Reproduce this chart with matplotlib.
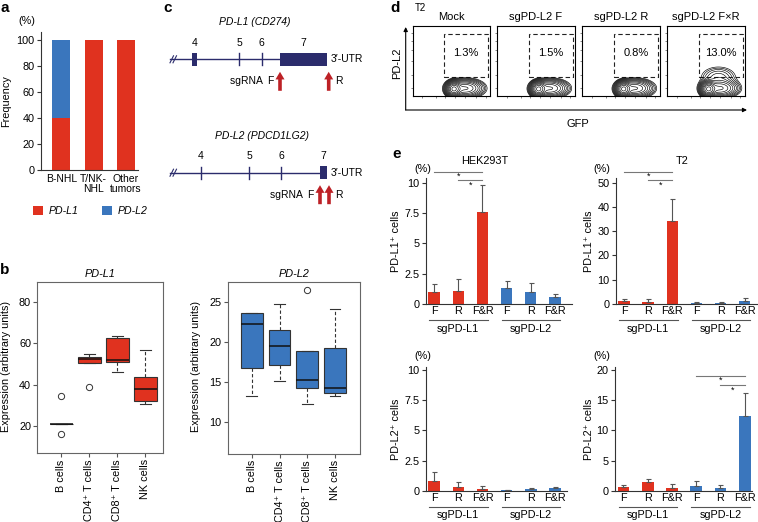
import numpy as np
import matplotlib
matplotlib.use('Agg')
import matplotlib.pyplot as plt
from matplotlib.patches import Rectangle, FancyArrowPatch

plt.rcParams['font.family'] = ['Liberation Sans', 'DejaVu Sans']
plt.rcParams['font.size'] = 7.8

W, H = 758, 522
RED = '#E0321F'
BLUE = '#3A76BD'
NAVY = '#2B2C6C'
ARROW_RED = '#BD2126'
GRAY = '#444444'
FS = 7.8

# ---------------- data ----------------
# panel a
a_categories = ['B-NHL', 'T/NK-\nNHL', 'Other\ntumors']
a_pdl1 = [40, 100, 100]
a_pdl2 = [60, 0, 0]

# panel b
b_cells = ['B cells', 'CD4⁺ T cells', 'CD8⁺ T cells', 'NK cells']
b_pdl1_med = [20.6, 52.3, 51.9, 37.8]
b_pdl1_q1 = [20.6, 50.6, 51.1, 32.2]
b_pdl1_q3 = [20.6, 53.6, 62.5, 43.8]
b_pdl1_lo = [20.6, 50.6, 45.9, 30.4]
b_pdl1_hi = [20.6, 54.9, 63.5, 56.8]
b_pdl1_out = [[34.4, 15.8], [38.6], [], []]

b_pdl2_med = [22.3, 19.5, 15.3, 14.3]
b_pdl2_q1 = [16.8, 17.2, 14.3, 13.6]
b_pdl2_q3 = [23.7, 21.6, 18.9, 19.3]
b_pdl2_lo = [13.3, 15.1, 12.3, 13.3]
b_pdl2_hi = [23.7, 24.8, 18.9, 24.2]
b_pdl2_out = [[], [], [26.5], []]

# panel c (schematic gene coordinates)
c_genes = ['PD-L1 (CD274)', 'PD-L2 (PDCD1LG2)']
c_exon_labels = ['4', '5', '6', '7']
pdl1_exon_start = [192.3, 239.3, 261.7, 280.0]
pdl1_exon_end = [197.3, 239.3, 261.7, 326.7]
pdl1_sgrna = [280.0, 328.7]
pdl2_exon_start = [201.0, 249.3, 281.3, 320.0]
pdl2_exon_end = [201.0, 249.3, 281.3, 326.7]
pdl2_sgrna = [320.0, 329.0]

# panel d
d_titles = ['Mock', 'sgPD-L2 F', 'sgPD-L2 R', 'sgPD-L2 F×R']
d_percent = ['1.3%', '1.5%', '0.8%', '13.0%']
# population components: (cx, cy, sx, sy, weight)
d_main_pop = [(0.53, 0.10, 0.045, 0.05, 1.0), (0.68, 0.11, 0.11, 0.06, 0.35)]
d_pos_pop = [None, None, None, (0.66, 0.27, 0.12, 0.08, 0.07)]

# panel e
e_groups = ['sgPD-L1', 'sgPD-L2']
e_ticks = ['F', 'R', 'F&R', 'F', 'R', 'F&R']
e_hek_pdl1 = [1.02, 1.10, 7.55, 1.32, 1.02, 0.58]
e_hek_pdl1_err = [0.60, 0.96, 2.25, 0.55, 0.68, 0.22]
e_t2_pdl1 = [1.1, 0.8, 34.2, 0.3, 0.4, 1.2]
e_t2_pdl1_err = [0.8, 1.1, 8.9, 0.4, 0.4, 1.4]
e_hek_pdl2 = [0.83, 0.33, 0.17, 0.08, 0.14, 0.22]
e_hek_pdl2_err = [0.71, 0.44, 0.27, 0.03, 0.11, 0.08]
e_t2_pdl2 = [0.72, 1.54, 0.50, 0.77, 0.50, 12.45]
e_t2_pdl2_err = [0.22, 0.44, 0.66, 0.83, 0.50, 3.75]

# ---------------- figure ----------------
fig = plt.figure(figsize=(W / 100, H / 100), dpi=100)


def px_axes(x0, y0, x1, y1):
    return fig.add_axes([x0 / W, 1 - y1 / H, (x1 - x0) / W, (y1 - y0) / H])


def ftext(x, y, s, **kw):
    kw.setdefault('ha', 'center')
    kw.setdefault('va', 'center')
    kw.setdefault('fontsize', FS)
    return fig.text(x / W, 1 - y / H, s, **kw)


def style_lb(ax):
    for s in ['top', 'right']:
        ax.spines[s].set_visible(False)
    for s in ['left', 'bottom']:
        ax.spines[s].set_color('#333333')
        ax.spines[s].set_linewidth(0.8)
    ax.tick_params(axis='y', length=3, width=0.8, color='#333333', labelsize=FS, pad=1.5)


# panel letters
for letter, (lx, ly) in zip('abcde', [(5, 8), (5, 270), (168, 8), (395, 8), (397, 154)]):
    ftext(lx, ly, letter, fontsize=11, fontweight='bold')

# ---- panel a ----
ax = px_axes(40.7, 31.7, 138, 170)
xa = np.arange(len(a_categories))
h1 = ax.bar(xa, a_pdl1, width=0.56, color=RED, label='PD-L1')
h2 = ax.bar(xa, a_pdl2, bottom=a_pdl1, width=0.56, color=BLUE, label='PD-L2')
ax.set_xlim(-0.64, 2.38)
ax.set_ylim(0, 106.6)
ax.set_yticks([0, 20, 40, 60, 80, 100])
ax.set_xticks(xa)
ax.set_xticklabels(a_categories, fontsize=7.5, linespacing=1.0)
style_lb(ax)
ax.tick_params(axis='x', length=0, pad=3)
ftext(27, 21, '(%)')
ftext(6, 101, 'Frequency', rotation=90)
fig.legend(handles=[h1, h2], loc='center', bbox_to_anchor=(90 / W, 1 - 211 / H), ncol=2,
           frameon=False, prop={'style': 'italic', 'size': 7.6}, handlelength=1.0,
           handleheight=0.85, handletextpad=0.5, columnspacing=2.2, borderpad=0)

# ---- panel b ----
def box_panel(box, xlim, ylim, yticks, med, q1, q3, lo, hi, out, color, title, width):
    ax = px_axes(*box)
    stats = [dict(med=m, q1=a, q3=b, whislo=l, whishi=h, fliers=f)
             for m, a, b, l, h, f in zip(med, q1, q3, lo, hi, out)]
    ax.bxp(stats, positions=[1, 2, 3, 4], widths=width, patch_artist=True,
           boxprops=dict(facecolor=color, edgecolor='#333333', linewidth=0.8),
           medianprops=dict(color='#111111', linewidth=1.1),
           whiskerprops=dict(color='#333333', linewidth=0.8, linestyle=(0, (3, 2))),
           capprops=dict(color='#333333', linewidth=0.8),
           flierprops=dict(marker='o', markerfacecolor='none', markeredgecolor='#333333',
                           markersize=4.5, markeredgewidth=0.7),
           capwidths=width / 2)
    ax.set_xlim(*xlim)
    ax.set_ylim(*ylim)
    ax.set_yticks(yticks)
    ax.set_xticks([1, 2, 3, 4])
    ax.set_xticklabels(b_cells, rotation=90, fontsize=FS)
    for s in ax.spines.values():
        s.set_color('#666666')
        s.set_linewidth(0.8)
    ax.tick_params(length=3, width=0.8, color='#555555', labelsize=FS, pad=1.5)
    ax.set_title(title, fontsize=FS, style='italic', pad=3.5)
    return ax


box_panel((37.3, 281.7, 163.3, 453), (0.14, 4.64), (6.7, 90), [20, 40, 60, 80],
          b_pdl1_med, b_pdl1_q1, b_pdl1_q3, b_pdl1_lo, b_pdl1_hi, b_pdl1_out, RED, 'PD-L1', 0.82)
box_panel((227.7, 281.7, 360, 454), (0.13, 4.9), (6.0, 27.6), [10, 15, 20, 25],
          b_pdl2_med, b_pdl2_q1, b_pdl2_q3, b_pdl2_lo, b_pdl2_hi, b_pdl2_out, BLUE, 'PD-L2', 0.78)
ftext(6, 367, 'Expression (arbitrary units)', rotation=90)
ftext(196, 367, 'Expression (arbitrary units)', rotation=90)

# ---- panel c ----
CFS = 7.5
cax = px_axes(160, 10, 352, 215)
cax.set_xlim(160, 352)
cax.set_ylim(215, 10)
cax.axis('off')
rows = [(59.3, pdl1_exon_start, pdl1_exon_end, pdl1_sgrna, 255),
        (172.7, pdl2_exon_start, pdl2_exon_end, pdl2_sgrna, 262)]
for (yc, es, ee, sg, tx), gname in zip(rows, c_genes):
    cax.plot([170, es[-1]], [yc, yc], color=NAVY, lw=1.0)
    cax.plot([170, 173.5], [yc + 3.5, yc - 3.5], color=NAVY, lw=0.8)
    cax.plot([173, 176.5], [yc + 3.5, yc - 3.5], color=NAVY, lw=0.8)
    for lab, s, e in zip(c_exon_labels, es, ee):
        if e > s:
            cax.add_patch(Rectangle((s, yc - 6.3), e - s, 12.6, color=NAVY, lw=0))
        else:
            cax.plot([s, s], [yc - 6, yc + 6], color=NAVY, lw=1.0)
        cax.text((s + e) / 2, yc - 16.5, lab, ha='center', va='center', fontsize=CFS)
    cax.text(ee[-1] + 4, yc, "3′-UTR", ha='left', va='center', fontsize=CFS)
    cax.text(tx, yc - 37, gname, ha='center', va='center', fontsize=CFS, style='italic')
    cax.text(sg[0] - 6, yc + 22, 'sgRNA  F', ha='right', va='center', fontsize=CFS)
    cax.text(sg[1] + 6, yc + 22, 'R', ha='left', va='center', fontsize=CFS)
    for xs in sg:
        cax.annotate('', xy=(xs, yc + 12.5), xytext=(xs, yc + 31.5),
                     arrowprops=dict(arrowstyle='simple,head_width=6.5,head_length=5.5,tail_width=2.6',
                                     color=ARROW_RED, shrinkA=0, shrinkB=0, mutation_scale=1, lw=0))

# ---- panel d ----
gx, gy = np.meshgrid(np.linspace(0, 1, 300), np.linspace(-0.3, 1, 390))
d_x0 = [412.7, 497.3, 582.3, 667.3]
for i, x0 in enumerate(d_x0):
    ax = px_axes(x0, 26, x0 + 77.5, 96)
    comps = list(d_main_pop) + ([d_pos_pop[i]] if d_pos_pop[i] else [])
    z = np.zeros_like(gx)
    for cx, cy, sx, sy, w in comps:
        z += w * np.exp(-((gx - cx) ** 2 / (2 * sx ** 2) + (gy - cy) ** 2 / (2 * sy ** 2)))
    levels = z.max() * np.geomspace(0.012, 0.85, 13)
    ax.contour(gx, gy, z, levels=levels, colors='k', linewidths=0.45)
    ax.set_xlim(0, 1)
    ax.set_ylim(0, 1)
    ax.add_patch(Rectangle((0.405, 0.276), 0.573, 0.604, fill=False, ls=(0, (4, 2.5)), lw=0.8,
                           color='#222222'))
    ax.text(0.69, 0.61, d_percent[i], ha='center', va='center', fontsize=8)
    ax.set_title(d_titles[i], fontsize=8, pad=4.5)
    ax.set_xticks([0.12, 0.3, 0.42, 0.55, 0.68, 0.82, 0.94])
    ax.set_yticks([0.12, 0.3, 0.5, 0.66, 0.78, 0.9])
    ax.set_xticklabels([])
    ax.set_yticklabels([])
    ax.tick_params(length=1.5, width=0.5, color='#555555')
    for s in ax.spines.values():
        s.set_linewidth(0.8)
ftext(420, 8, 'T2', fontsize=7)
fig.add_artist(FancyArrowPatch((405.7 / W, 1 - 110 / H), (405.7 / W, 1 - 27 / H),
                               transform=fig.transFigure, arrowstyle='-|>', mutation_scale=6,
                               color='k', lw=0.8, shrinkA=0, shrinkB=0))
fig.add_artist(FancyArrowPatch((405.7 / W, 1 - 110 / H), (747 / W, 1 - 110 / H),
                               transform=fig.transFigure, arrowstyle='-|>', mutation_scale=6,
                               color='k', lw=0.8, shrinkA=0, shrinkB=0))
ftext(397, 63, 'PD-L2', rotation=90, fontsize=8)
ftext(578, 124, 'GFP', fontsize=8)

# ---- panel e ----
def bar_panel(box, vals, errs, xlim, ylim, yticks, yticklabels, sigs):
    ax = px_axes(*box)
    x = np.arange(len(vals))
    colors = [RED] * 3 + [BLUE] * 3
    ax.bar(x, vals, width=0.48, color=colors, zorder=2)
    ax.errorbar(x, vals, yerr=[np.zeros(len(errs)), errs], fmt='none', ecolor='#555555',
                elinewidth=0.8, capsize=1.8, capthick=0.8, zorder=3)
    ax.set_xlim(*xlim)
    ax.set_ylim(*ylim)
    ax.set_yticks(yticks)
    ax.set_yticklabels(yticklabels)
    ax.set_xticks(x)
    ax.set_xticklabels(e_ticks, fontsize=FS)
    style_lb(ax)
    ax.tick_params(axis='x', length=0, pad=1.5)
    tr = ax.get_xaxis_transform()
    for (g0, g1), name in zip([(0, 2), (3, 5)], e_groups):
        ax.plot([g0 - 0.2, g1 + 0.22], [-0.13, -0.13], transform=tr, clip_on=False,
                color='#555555', lw=0.8)
        ax.text((g0 + g1) / 2, -0.195, name, transform=tr, ha='center', va='center', fontsize=FS)
    for (i0, i1, yv) in sigs:
        ax.plot([i0, i1], [yv, yv], color='#777777', lw=0.8, clip_on=False)
        ax.annotate('*', xy=((i0 + i1) / 2, yv), xytext=(0, -3.5), textcoords='offset points',
                    ha='center', va='center', fontsize=6.5, annotation_clip=False)
    return ax


bar_panel((426, 178.3, 571.7, 304), e_hek_pdl1, e_hek_pdl1_err, (-0.34, 5.7), (0, 10.36),
          [0, 2.5, 5, 7.5, 10], ['0', '2.5', '5', '7.5', '10'], [(0, 2, 10.9), (1, 2, 10.2)])
bar_panel((615.7, 178.3, 756.7, 304), e_t2_pdl1, e_t2_pdl1_err, (-0.35, 5.5), (0, 51.8),
          [0, 10, 20, 30, 40, 50], ['0', '10', '20', '30', '40', '50'],
          [(0, 2, 54.5), (1, 2, 51.0)])
bar_panel((426, 366.7, 567, 491), e_hek_pdl2, e_hek_pdl2_err, (-0.34, 5.5), (0, 10.27),
          [0, 2.5, 5, 7.5, 10], ['0', '2.5', '5', '7.5', '10'], [])
bar_panel((615, 366.7, 752, 491), e_t2_pdl2, e_t2_pdl2_err, (-0.35, 5.3), (0, 20.5),
          [0, 5, 10, 15, 20], ['0', '5', '10', '15', '20'], [(3, 5, 19.0), (4, 5, 17.5)])
ftext(485, 161, 'HEK293T', fontsize=FS)
ftext(682, 161, 'T2', fontsize=FS)
for xx in (422.7, 601.7):
    ftext(xx, 169.3, '(%)')
    ftext(xx, 356, '(%)')
for xx in (396, 588.5):
    ftext(xx, 241, 'PD-L1⁺ cells', rotation=90, fontsize=FS)
    ftext(xx, 429, 'PD-L2⁺ cells', rotation=90, fontsize=FS)

fig.savefig('out.png', dpi=100)
